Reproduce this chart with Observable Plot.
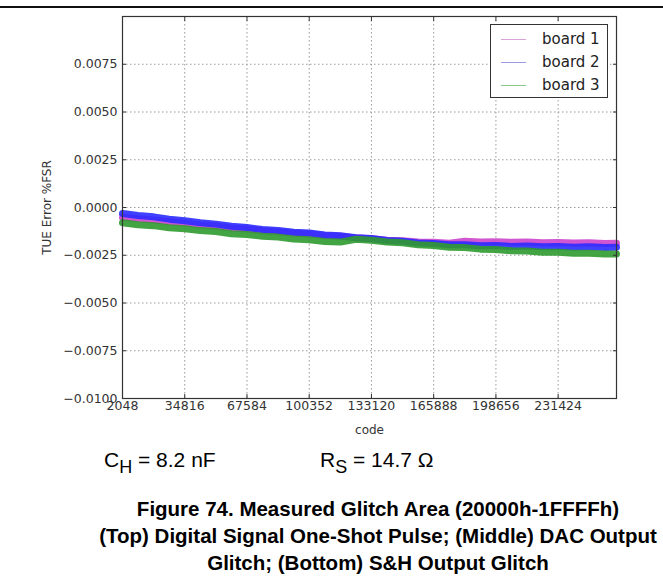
<!DOCTYPE html>
<html>
<head>
<meta charset="utf-8">
<script src="https://cdn.jsdelivr.net/npm/d3@7"></script>
<script src="https://cdn.jsdelivr.net/npm/@observablehq/plot@0.6"></script>
<style>
  body { margin: 0; background: #fff; }
  #wrap { position: relative; width: 663px; height: 586px; overflow: hidden; font-family: "Liberation Sans", Arial, sans-serif; }
  #rule { position: absolute; left: 0; top: 6px; width: 663px; height: 2px; background: #111; }
  #chart { position: absolute; left: 0; top: 0; }
  #legend { position: absolute; left: 490px; top: 24px; width: 116px; height: 72px; border: 1px solid #333; background: #fff; font-family: "DejaVu Sans", sans-serif; font-size: 15px; color: #222; }
  .row { position: absolute; left: 0; height: 20px; width: 116px; }
  .row .sw { position: absolute; left: 10px; top: 10px; width: 25px; height: 1px; }
  .row .lb { position: absolute; left: 51px; top: 0; line-height: 20px; white-space: nowrap; }
  .cond { position: absolute; top: 448px; font-size: 21px; color: #000; white-space: nowrap; line-height: 24px; }
  .cond sub { font-size: 18px; vertical-align: baseline; position: relative; top: 6px; }
  #caption { position: absolute; left: 0; width: 756px; top: 495px; text-align: center; font-weight: bold; font-size: 20.5px; line-height: 27px; color: #000; white-space: nowrap; }
</style>
</head>
<body>
<div id="wrap">
  <div id="chart"></div>
  <div id="rule"></div>
  <div id="legend"></div>
  <div class="cond" style="left:104px">C<sub>H</sub> = 8.2 nF</div>
  <div class="cond" style="left:320px">R<sub>S</sub> = 14.7 Ω</div>
  <div id="caption"></div>
</div>
<script>
// ---- data ----
const boards = ["board 1", "board 2", "board 3"];
const boardColors = ["#cc44cc", "#2b2bff", "#2f9a2f"];
const legendColors = ["#d9a3d9", "#9a9ae6", "#8cc88c"];
const xTicks = [2048, 34816, 67584, 100352, 133120, 165888, 198656, 231424];
const yTicks = [-0.01, -0.0075, -0.005, -0.0025, 0, 0.0025, 0.005, 0.0075];
const codes = [2048, 10240, 18432, 26624, 34816, 43008, 51200, 59392, 67584, 75776, 83968, 92160,
  100352, 108544, 116736, 124928, 133120, 141312, 149504, 157696, 165888, 174080, 182272, 190464,
  198656, 206848, 215040, 223232, 231424, 239616, 247808, 256000, 262143];
const board1 = [-0.00052, -0.00059, -0.00065, -0.00075, -0.00081, -0.00091, -0.00097, -0.00107, -0.00113, -0.00122,
  -0.00127, -0.00135, -0.00139, -0.00147, -0.00151, -0.00159, -0.00163, -0.00171, -0.00174, -0.0018, -0.00182,
  -0.00187, -0.00177, -0.0018, -0.00179, -0.00182, -0.00181, -0.00184, -0.00183, -0.00186, -0.00185, -0.00188, -0.00187];
const board2 = [-0.00031, -0.00042, -0.00049, -0.00061, -0.00069, -0.0008, -0.00087, -0.00098, -0.00105, -0.00115,
  -0.0012, -0.0013, -0.00134, -0.00144, -0.00148, -0.00158, -0.00162, -0.00173, -0.00177, -0.00186, -0.00188,
  -0.00195, -0.00195, -0.002, -0.00199, -0.00204, -0.00202, -0.00206, -0.00204, -0.00208, -0.00206, -0.0021, -0.00208];
const board3 = [-0.0008, -0.0009, -0.00095, -0.00106, -0.00111, -0.00121, -0.00126, -0.00137, -0.00141, -0.00151,
  -0.00155, -0.00165, -0.00169, -0.00178, -0.00181, -0.00166, -0.00171, -0.00181, -0.00185, -0.00195, -0.00199,
  -0.00208, -0.0021, -0.00218, -0.0022, -0.00227, -0.00228, -0.00234, -0.00234, -0.0024, -0.00239, -0.00244, -0.00243];
const yLabel = "TUE Error %FSR";
const xLabel = "code";
const captionLines = [
  "Figure 74. Measured Glitch Area (20000h-1FFFFh)",
  "(Top) Digital Signal One-Shot Pulse; (Middle) DAC Output",
  "Glitch; (Bottom) S&H Output Glitch"
];

// ---- build table ----
const series = [board1, board2, board3];
const rows = [];
boards.forEach((b, i) => codes.forEach((c, j) => rows.push({code: c, value: series[i][j], board: b})));

const fmtY = d => d.toFixed(4).replace("-", "\u2212");

const chart = Plot.plot({
  width: 663,
  height: 440,
  marginLeft: 122,
  marginRight: 47,
  marginTop: 16,
  marginBottom: 42,
  style: {fontFamily: "DejaVu Sans, sans-serif", fontSize: "12.5px", color: "#333", background: "transparent", overflow: "visible"},
  x: {domain: [2048, 262143]},
  y: {domain: [-0.01, 0.01]},
  color: {domain: boards, range: boardColors},
  marks: [
    Plot.gridX(xTicks, {stroke: "#9a9a9a", strokeOpacity: 1, strokeDasharray: "1.5,2.5"}),
    Plot.gridY(yTicks, {stroke: "#9a9a9a", strokeOpacity: 1, strokeDasharray: "1.5,2.5"}),
    Plot.line(rows, {x: "code", y: "value", z: "board", stroke: "board", strokeWidth: 7, strokeOpacity: 0.9}),
    Plot.frame({stroke: "#333", strokeWidth: 1.2}),
    Plot.axisX(xTicks, {anchor: "bottom", tickSize: 0, tickPadding: 3, tickFormat: d => String(d), label: null, fill: "#333"}),
    Plot.axisX(xTicks, {anchor: "bottom", tickSize: -4, text: null, label: null, stroke: "#333"}),
    Plot.axisX(xTicks, {anchor: "top", tickSize: -4, text: null, label: null, stroke: "#333"}),
    Plot.axisY(yTicks, {anchor: "left", tickSize: 0, tickPadding: 5, tickFormat: fmtY, label: null, fill: "#333"}),
    Plot.axisY(yTicks, {anchor: "left", tickSize: -4, text: null, label: null, stroke: "#333"}),
    Plot.axisY(yTicks, {anchor: "right", tickSize: -4, text: null, label: null, stroke: "#333"}),
    Plot.text([yLabel], {frameAnchor: "left", dx: -75, rotate: -90, textAnchor: "middle", lineAnchor: "middle", fontSize: 12, fill: "#333"}),
    Plot.text([xLabel], {frameAnchor: "bottom", dy: 32, textAnchor: "middle", lineAnchor: "middle", fontSize: 12, fill: "#333"})
  ]
});
document.getElementById("chart").appendChild(chart);

// ---- legend ----
const legend = document.getElementById("legend");
boards.forEach((b, i) => {
  const r = document.createElement("div");
  r.className = "row";
  r.style.top = (4 + i * 23) + "px";
  const sw = document.createElement("div");
  sw.className = "sw";
  sw.style.background = legendColors[i];
  const lb = document.createElement("div");
  lb.className = "lb";
  lb.textContent = b;
  r.appendChild(sw); r.appendChild(lb);
  legend.appendChild(r);
});

// ---- caption ----
const cap = document.getElementById("caption");
captionLines.forEach(t => { const d = document.createElement("div"); d.textContent = t; cap.appendChild(d); });
</script>
</body>
</html>
